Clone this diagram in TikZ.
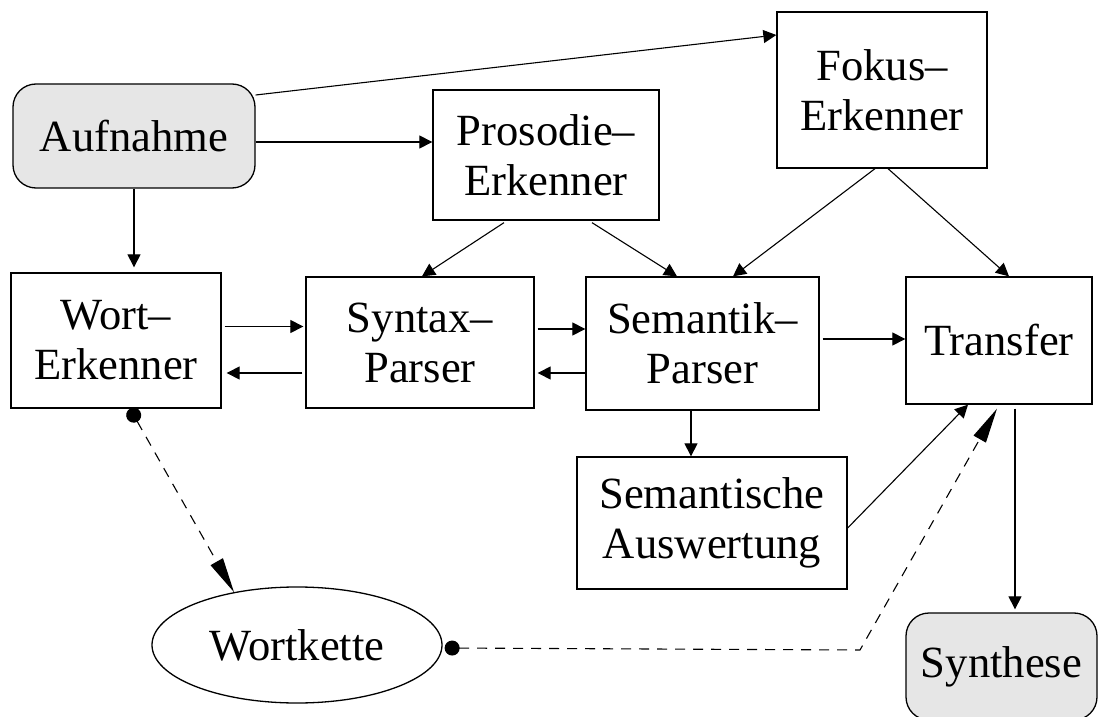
\documentclass[tikz,border=0pt]{standalone}
\usepackage{fontspec}
\setmainfont{Liberation Serif}
\usetikzlibrary{arrows.meta}
\usetikzlibrary{calc}
\usetikzlibrary{shapes.geometric}
\definecolor{boxgray}{HTML}{E6E6E6}

\begin{document}
\begin{tikzpicture}[x = 0.5pt, y = -0.5pt, >={Triangle[length = 6.5pt, width = 6.5pt]}, line width = 0.55pt,
						box node/.style = {rectangle, draw, align = center, inner sep = 0pt, line width = 0.65pt, font = \fontsize{22.3}{25}\selectfont},
						end node/.style = {box node, rounded corners = 11.5pt, fill = boxgray},
						store node/.style = {ellipse, draw, inner sep = 0pt, line width = 0.65pt, font = \fontsize{22.3}{25}\selectfont},
						dash arrow/.style = {dash pattern = on 5pt off 4pt, {Circle[length = 7.5pt]}-{Triangle[length = 17.5pt, width = 7pt]}}]
		\useasboundingbox (0,0) rectangle (1099,717);

		\node[end node, minimum width = 121pt, minimum height = 52pt] (aufnahme) at (134,136) {Aufnahme};
		\node[box node, minimum width = 113pt, minimum height = 65pt] (prosodie) at (546,155) {Prosodie--\\Erkenner};
		\node[box node, minimum width = 105pt, minimum height = 78pt] (fokus) at (882,90) {Fokus--\\Erkenner};

		\node[box node, minimum width = 105pt, minimum height = 67.5pt] (wort) at (116,340.5) {Wort--\\Erkenner};
		\node[box node, minimum width = 114pt, minimum height = 65.5pt] (syntax) at (420,342.5) {Syntax--\\Parser};
		\node[box node, minimum width = 116.5pt, minimum height = 66.5pt] (semantik) at (702.5,343.5) {Semantik--\\Parser};
		\node[box node, minimum width = 93pt, minimum height = 63.5pt] (transfer) at (999,340.5) {Transfer};

		\node[box node, minimum width = 135pt, minimum height = 66pt] (auswertung) at (712,523) {Semantische\\Auswertung};
		\node[store node, minimum width = 145pt, minimum height = 58pt] (wortkette) at (297,645) {Wortkette};
		\node[end node, minimum width = 95.5pt, minimum height = 53.5pt] (synthese) at (1001.5,666.5) {Synthese};

		\coordinate (knick) at (860,650);

		\path[->]
		($(aufnahme.east)+(0,-41)$) edge ($(fokus.west)+(0,-55)$)
		($(aufnahme.east)+(0,6)$) edge ($(prosodie.west)+(0,-13)$)
		(aufnahme.south) edge ([yshift = 2.5pt]aufnahme.south |- wort.north)
		($(prosodie.south)+(-42,2)$) edge ($(syntax.north)+(2,0)$)
		($(prosodie.south)+(46,2)$) edge ($(semantik.north)+(-25.5,0)$)
		($(fokus.south)+(-7,0)$) edge ($(semantik.north)+(30.5,0)$)
		($(fokus.south)+(6,0)$) edge ($(transfer.north)+(10,0)$)
		($(wort.east)+(3,-14)$) edge ($(syntax.west)+(-2,-16)$)
		($(syntax.west)+(-3,30.5)$) edge ($(wort.east)+(5,32.5)$)
		($(syntax.east)+(3,-13.5)$) edge ($(semantik.west)+(0,-14.5)$)
		($(semantik.west)+(0,29.5)$) edge ($(syntax.east)+(3,30.5)$)
		($(semantik.east)+(3,-4.5)$) edge ($(transfer.west)+(0,-1.5)$)
		($(semantik.south)+(-11.5,0)$) edge ($(auswertung.north)+(-21,0)$)
		($(auswertung.east)+(0,5)$) edge ($(transfer.south)+(-31,0)$)
		($(transfer.south)+(16,4)$) edge ($(synthese.north)+(13.5,-3)$);

		\draw[dash arrow] ($(wort.south)+(14,0)$) -- (wortkette.140);
		\draw[dash arrow] ($(wortkette.east)+(2,3)$) -- (knick) -- ($(transfer.south)+(-2,4)$);

	\end{tikzpicture}
\end{document}
